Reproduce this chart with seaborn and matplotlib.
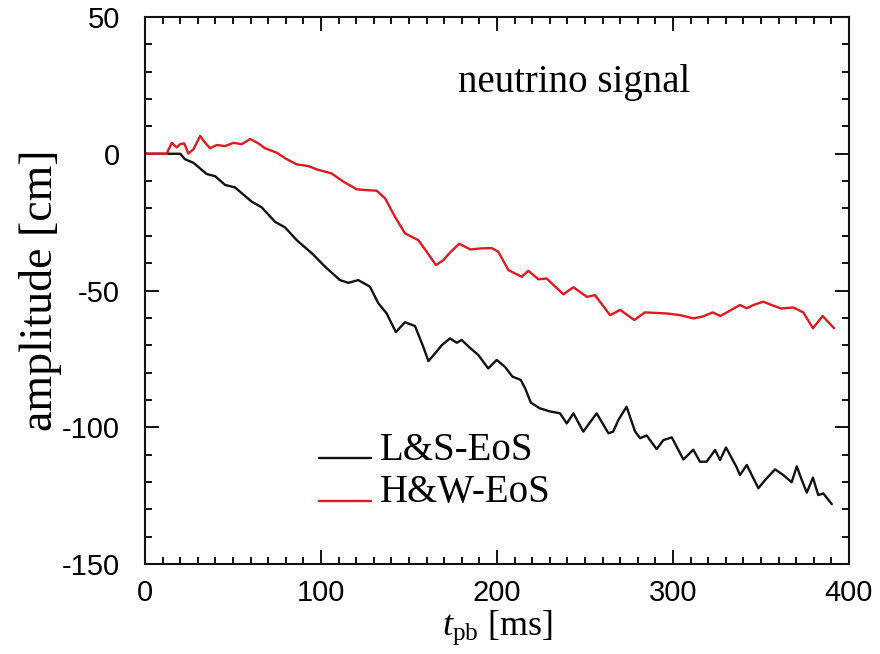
import numpy as np
import pandas as pd
import matplotlib
matplotlib.use("Agg")
import matplotlib.pyplot as plt
from matplotlib.ticker import MultipleLocator
from matplotlib.legend_handler import HandlerLine2D
import seaborn as sns

# Neutrino-driven gravitational-wave amplitude for two equations of state
ls_t = [0, 20, 22.7, 27.5, 35, 39.8, 45.5, 51.1, 60.6, 66.3, 73.9, 79.5, 86.2, 95,
        102.3, 110.8, 115.5, 121.2, 127.8, 132.6, 137.3, 142.5, 147.7, 153.4, 158.1,
        161, 164.8, 168.6, 173.3, 177.1, 179.9, 184.7, 189.4, 195, 199.8, 204.5,
        208.8, 213.5, 216, 219.2, 224.4, 230, 235.8, 239.6, 243.4, 249, 256.6, 263.3,
        266, 268.9, 273.6, 278.4, 281.3, 285, 290.7, 294.5, 299.3, 305.9, 311.5,
        315.3, 319.1, 323.9, 326.7, 330.1, 336.2, 338, 341.9, 348.5, 352.3, 358,
        362.7, 367.4, 370.3, 373, 376, 379.5, 382.5, 385.4, 390.2]
ls_amp = [0, 0, -2.0, -3.3, -7.4, -8.2, -11.4, -12.3, -17.5, -19.6, -24.9, -26.9, -31.6,
          -36.5, -41.3, -46.2, -47.2, -46.2, -48.6, -54.7, -58.4, -65.2, -61.6, -63.0,
          -70.6, -75.8, -73, -70, -67.5, -69.1, -68.1, -71, -73.6, -78.5, -75.4, -77.9,
          -81.5, -82.7, -85.8, -91, -93.1, -94.2, -94.9, -98.6, -94.9, -101.6, -94.9,
          -102.2, -101.6, -97.4, -92.5, -101.5, -104, -103, -108, -104.7, -103.7,
          -111.8, -108.2, -112.6, -112.6, -108.3, -112, -107.4, -114.7, -117.5,
          -113.8, -122.3, -119.3, -115.4, -117.5, -120.1, -114.3, -119, -123.9,
          -118.4, -124.8, -124.2, -128.1]

hw_t = [0, 12.3, 15.2, 18, 19.9, 22.3, 24.6, 27.5, 31.3, 33.7, 36.9, 40.7, 45.5, 50.2,
        54.9, 59.7, 64.4, 68.2, 74.8, 80.5, 86.2, 92.8, 98, 106, 112.7, 120.3, 126,
        131.6, 136.4, 142, 147.7, 155.3, 160, 165.3, 169.5, 173.5, 178.5, 184.8, 191,
        197, 200.7, 206.4, 214, 217.8, 223.5, 228.2, 237.7, 243.4, 251, 255.7, 264.2,
        270, 278, 284, 290, 296.4, 304, 311.5, 317, 322.5, 327, 338, 341.9, 346,
        351.3, 356, 361.5, 368.3, 374, 379.5, 385, 391.5]
hw_amp = [0, 0, 4.0, 2.3, 3.5, 3.8, 0.1, 1.6, 6.5, 4.4, 2.0, 3.2, 2.8, 4.0, 3.5, 5.4,
          3.8, 2.0, 0.4, -2.0, -3.9, -4.5, -5.8, -7.2, -10.2, -13.0, -13.3, -13.5,
          -16.3, -23, -29.1, -31.6, -35.8, -40.7, -38.9, -36, -32.9, -35, -34.6,
          -34.5, -35.8, -42.5, -45, -42.8, -45.9, -45.6, -51.4, -48.8, -52.3, -51.7,
          -59, -57.1, -60.8, -58, -58.2, -58.4, -59, -60.2, -59.5, -58, -59.3, -55.3,
          -56.5, -55.2, -54.1, -55.3, -56.6, -56.2, -58, -63.8, -59.3, -63.8]

series_names = ["L&S-EoS", "H&W-EoS"]
x_ticks = [0, 100, 200, 300, 400]
y_ticks = [-150, -100, -50, 0, 50]

df = pd.concat([
    pd.DataFrame({"t": ls_t, "amp": ls_amp, "eos": series_names[0]}),
    pd.DataFrame({"t": hw_t, "amp": hw_amp, "eos": series_names[1]}),
], ignore_index=True)

sns.set_style("ticks")
plt.rcParams["font.family"] = ["Liberation Serif", "DejaVu Serif"]
plt.rcParams["mathtext.fontset"] = "custom"
plt.rcParams["mathtext.rm"] = "Liberation Serif"
plt.rcParams["mathtext.it"] = "Liberation Serif:italic"
plt.rcParams["axes.unicode_minus"] = False
plt.rcParams["text.color"] = "black"
plt.rcParams["axes.labelcolor"] = "black"
plt.rcParams["xtick.color"] = "black"
plt.rcParams["ytick.color"] = "black"


class LowHandler(HandlerLine2D):
    """Legend line drawn near the text baseline instead of its centre."""

    def create_artists(self, legend, orig_handle, xdescent, ydescent,
                       width, height, fontsize, trans):
        artists = super().create_artists(legend, orig_handle, xdescent, ydescent,
                                         width, height, fontsize, trans)
        for a in artists:
            a.set_ydata(np.asarray(a.get_ydata()) - 0.32 * fontsize)
        return artists


fig = plt.figure(figsize=(8.8, 6.54), dpi=100)
ax = fig.add_axes([0.1648, 0.1376, 0.8, 0.8364])

palette = {"L&S-EoS": "#111111", "H&W-EoS": "#e3181f"}
sns.lineplot(data=df, x="t", y="amp", hue="eos", sort=False, estimator=None,
             palette=palette, linewidth=1.7, ax=ax, legend=True)

ax.set_xlim(0, 400)
ax.set_ylim(-150, 50)
ax.set_xticks(x_ticks)
ax.set_yticks(y_ticks)
ax.xaxis.set_minor_locator(MultipleLocator(10))
ax.yaxis.set_minor_locator(MultipleLocator(10))
ax.tick_params(which="both", direction="in", top=True, right=True,
               width=1.4, color="#111111", labelcolor="black")
ax.tick_params(which="major", length=10)
ax.tick_params(which="minor", length=5.2)
ax.tick_params(axis="y", which="major", pad=18)
ax.tick_params(axis="x", which="major", pad=11)
for lab in ax.get_xticklabels() + ax.get_yticklabels():
    lab.set_fontfamily(["Liberation Sans", "DejaVu Sans"])
    lab.set_fontsize(21)
for sp in ax.spines.values():
    sp.set_linewidth(1.5)
    sp.set_color("#111111")

ax.set_xlabel(r"$t_{\rm pb}$ [ms]", fontsize=26, labelpad=1)
ax.set_ylabel("amplitude [cm]", fontsize=33, labelpad=0)

ax.text(244, 22.6, "neutrino signal", fontsize=28, ha="center", va="baseline")

handles, labels = ax.get_legend_handles_labels()
leg = ax.legend(handles, labels, loc="upper left", bbox_to_anchor=(0.2465, 0.242),
                frameon=False, fontsize=28, handlelength=1.35, handletextpad=0.22,
                labelspacing=0.13, borderpad=0, borderaxespad=0,
                handler_map={h: LowHandler() for h in handles})
for line in leg.get_lines():
    line.set_linewidth(1.7)

fig.savefig("out.png", dpi=100)
